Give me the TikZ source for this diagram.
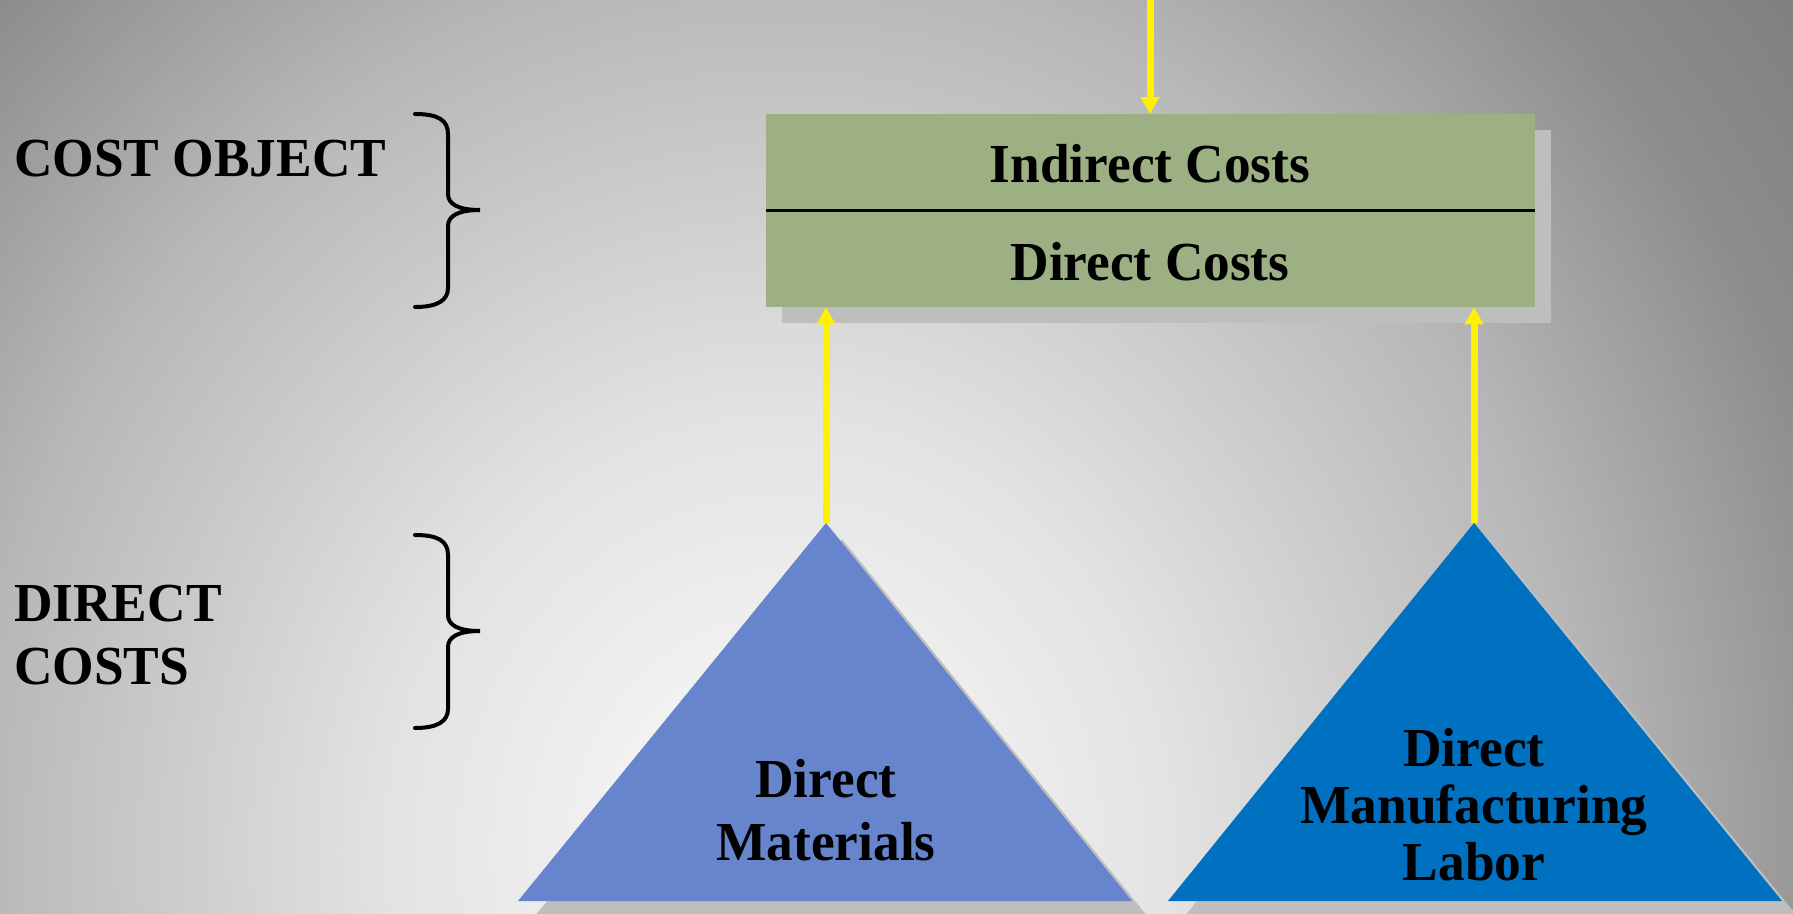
\documentclass[tikz,border=0pt]{standalone}
\usepackage{fontspec}
\setmainfont{Liberation Serif}[FakeStretch=0.97]
\usetikzlibrary{arrows.meta}
\definecolor{boxgreen}{RGB}{157,176,132}
\definecolor{dmblue}{RGB}{102,133,204}
\definecolor{dlblue}{RGB}{0,112,192}
\definecolor{shadowgray}{RGB}{190,190,190}
\definecolor{bgA}{RGB}{252,252,252}
\definecolor{bgB}{RGB}{227,227,227}
\definecolor{bgC}{RGB}{183,183,183}
\definecolor{bgD}{RGB}{141,141,141}
\definecolor{bgE}{RGB}{126,126,126}
\pgfdeclareradialshading{bgshade}{\pgfpoint{0bp}{0bp}}{color(0bp)=(bgA); color(7.5bp)=(bgB); color(15.5bp)=(bgC); color(21bp)=(bgD); color(25bp)=(bgE); color(50bp)=(bgE)}
\begin{document}
\begin{tikzpicture}[x=1pt,y=-1pt,
  lbl/.style={font=\bfseries\fontsize{55}{60}\selectfont, inner sep=0pt, align=center},
  yarrow/.style={draw=yellow, line width=7pt, -{Triangle[length=17pt,width=18pt]}},
  brace/.style={draw=black, line width=4pt, line cap=round},
  shadowfill/.style={fill=shadowgray}]
\useasboundingbox (0,0) rectangle (1793,913);
\clip (0,0) rectangle (1793,913);
\shade[shading=bgshade] (780,850) ellipse [x radius=1300pt, y radius=1430pt];

% box
\fill[shadowfill] (782,130) rectangle (1551,323);
\node[fill=boxgreen, minimum width=769pt, minimum height=193pt, inner sep=0pt, anchor=north west] (box) at (766,114) {};
\draw[line width=2.5pt] (box.west) -- (box.east);
\node[lbl, anchor=base] (ind) at (1150,182) {Indirect Costs};
\node[lbl, anchor=base] (dir) at (1150,280) {Direct Costs};

% triangles
\coordinate (dmtop) at (826,523);
\coordinate (dltop) at (1474,523);
\fill[shadowfill] (842,539) -- (1148,917) -- (534,917) -- cycle;
\fill[dmblue] (dmtop) -- (1132,901) -- (518,901) -- cycle;
\fill[shadowfill] (1490,539) -- (1798,917) -- (1184,917) -- cycle;
\fill[dlblue] (dltop) -- (1782,901) -- (1168,901) -- cycle;
\node[lbl, anchor=base, font=\bfseries\fontsize{55}{63}\selectfont] (dm) at (826,860) {Direct\\Materials};
\node[lbl, anchor=base, font=\bfseries\fontsize{55}{57}\selectfont] (dl) at (1474,880) {Direct\\Manufacturing\\Labor};

% arrows
\coordinate (topsrc) at (1150,-10);
\draw[yarrow] (topsrc) -- (topsrc |- box.north);
\draw[yarrow] (dmtop) -- (dmtop |- box.south);
\draw[yarrow] (dltop) -- (dltop |- box.south);

% braces and left labels
\draw[brace] (415,114) .. controls (438,114) and (448,120) .. (448,134) -- (448,194) .. controls (448,204) and (458,210) .. (480,210) .. controls (458,210) and (448,216) .. (448,226) -- (448,288) .. controls (448,300) and (438,307) .. (415,307);
\draw[brace, shift={(0,421)}] (415,114) .. controls (438,114) and (448,120) .. (448,134) -- (448,194) .. controls (448,204) and (458,210) .. (480,210) .. controls (458,210) and (448,216) .. (448,226) -- (448,288) .. controls (448,300) and (438,307) .. (415,307);
\node[lbl, anchor=base west] (co) at (14,176) {COST OBJECT};
\node[lbl, anchor=base west, align=left, font=\bfseries\fontsize{55}{63}\selectfont] (dc) at (14,684) {DIRECT\\COSTS};
\end{tikzpicture}
\end{document}
